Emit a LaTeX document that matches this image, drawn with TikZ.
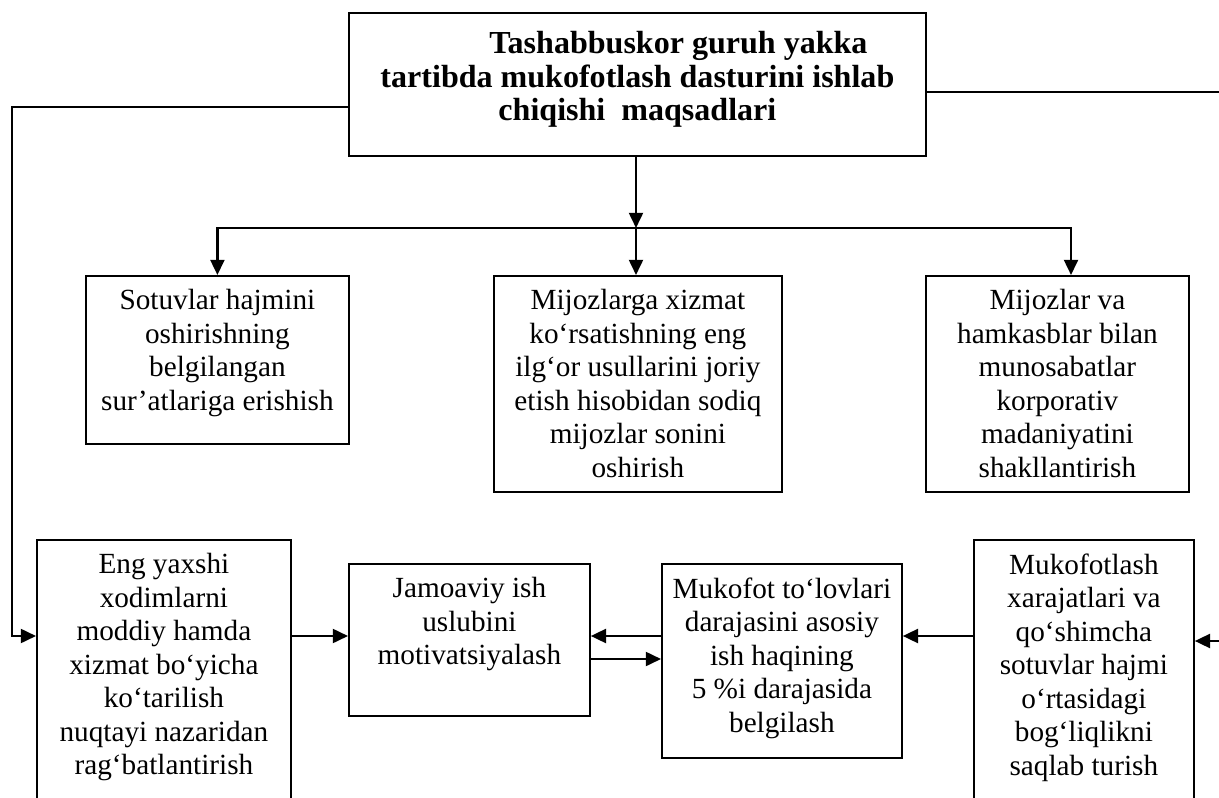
\documentclass[tikz,border=0pt]{standalone}
\usepackage{fontspec}
\setmainfont{Liberation Serif}
\usetikzlibrary{arrows.meta, positioning}
\tikzset{
  box/.style={rectangle, draw=black, line width=1.3pt, inner sep=0pt, anchor=north west},
  boxtext/.style={align=center, inner sep=0pt, font=\fontsize{20.8}{23.8}\selectfont},
  goaltext/.style={align=center, inner sep=0pt, font=\bfseries\fontsize{22.8}{23.8}\selectfont},
  arrow/.style={-{Triangle[length=3.8mm, width=3.5mm]}, line width=1.6pt},
  line/.style={line width=1.6pt}
}
\begin{document}
\begin{tikzpicture}
  \useasboundingbox (0,0) rectangle (30.475,-19.95);
  \clip (0,0) rectangle (30.475,-19.95);

  % Top Node
  \node[box, minimum width=14.425cm, minimum height=3.575cm] (goal) at (8.7,-0.3) {};
  \node[goaltext, below=0.48cm of goal.north] (goaltxt) {\hspace*{2.05cm}Tashabbuskor guruh yakka\\tartibda mukofotlash dasturini ishlab\\chiqishi\ \ maqsadlari};

  % Middle Nodes
  \node[box, minimum width=6.575cm, minimum height=4.2cm] (sales) at (2.125,-6.875) {};
  \node[boxtext, below=0.36cm of sales.north] (salestxt) {Sotuvlar hajmini\\oshirishning\\belgilangan\\sur’atlariga erishish};
  \node[box, minimum width=7.2cm, minimum height=5.4cm] (service) at (12.325,-6.875) {};
  \node[boxtext, below=0.36cm of service.north] (servicetxt) {Mijozlarga xizmat\\ko‘rsatishning eng\\ilg‘or usullarini joriy\\etish hisobidan sodiq\\mijozlar sonini\\oshirish};
  \node[box, minimum width=6.575cm, minimum height=5.4cm] (culture) at (23.125,-6.875) {};
  \node[boxtext, below=0.36cm of culture.north] (culturetxt) {Mijozlar va\\hamkasblar bilan\\munosabatlar\\korporativ\\madaniyatini\\shakllantirish};

  % Bottom Nodes
  \node[box, minimum width=6.35cm, minimum height=7.5cm] (reward) at (0.9,-13.475) {};
  \node[boxtext, below=0.36cm of reward.north] (rewardtxt) {Eng yaxshi\\xodimlarni\\moddiy hamda\\xizmat bo‘yicha\\ko‘tarilish\\nuqtayi nazaridan\\rag‘batlantirish};
  \node[box, minimum width=6.025cm, minimum height=3.8cm] (team) at (8.7,-14.075) {};
  \node[boxtext, below=0.36cm of team.north] (teamtxt) {Jamoaviy ish\\uslubini\\motivatsiyalash};
  \node[box, minimum width=6.0cm, minimum height=4.85cm] (bonus) at (16.525,-14.075) {};
  \node[boxtext, below=0.36cm of bonus.north] (bonustxt) {Mukofot to‘lovlari\\darajasini asosiy\\ish haqining\\5 \%i darajasida\\belgilash};
  \node[box, minimum width=5.5cm, minimum height=7.5cm] (cost) at (24.325,-13.475) {};
  \node[boxtext, below=0.36cm of cost.north] (costtxt) {Mukofotlash\\xarajatlari va\\qo‘shimcha\\sotuvlar hajmi\\o‘rtasidagi\\bog‘liqlikni\\saqlab turish};

  % Helper points
  \coordinate (hub) at (15.9,-5.7);
  \coordinate (loop) at (0.3,-2.675);
  \coordinate (upper) at (0,-15.9);
  \coordinate (lower) at (0,-16.475);
  \coordinate (exit) at (30.475,-2.3);
  \coordinate (edge) at (30.475,-16.025);

  % Paths
  \draw[arrow] (goal.south -| hub) -- (hub);
  \draw[arrow] (hub) -| (sales.north);
  \draw[arrow] (hub) -- (service.north -| hub);
  \draw[arrow] (hub) -| ([xshift=3.4mm]culture.north);
  \draw[arrow] (goal.west |- loop) -- (loop) -- (loop |- upper) -- (reward.west |- upper);
  \draw[line] (goal.east |- exit) -- (exit);
  \draw[arrow] (edge) -- (cost.east |- edge);
  \draw[arrow] (reward.east |- upper) -- (team.west |- upper);
  \draw[arrow] (bonus.west |- upper) -- (team.east |- upper);
  \draw[arrow] (team.east |- lower) -- (bonus.west |- lower);
  \draw[arrow] (cost.west |- upper) -- (bonus.east |- upper);
\end{tikzpicture}
\end{document}
